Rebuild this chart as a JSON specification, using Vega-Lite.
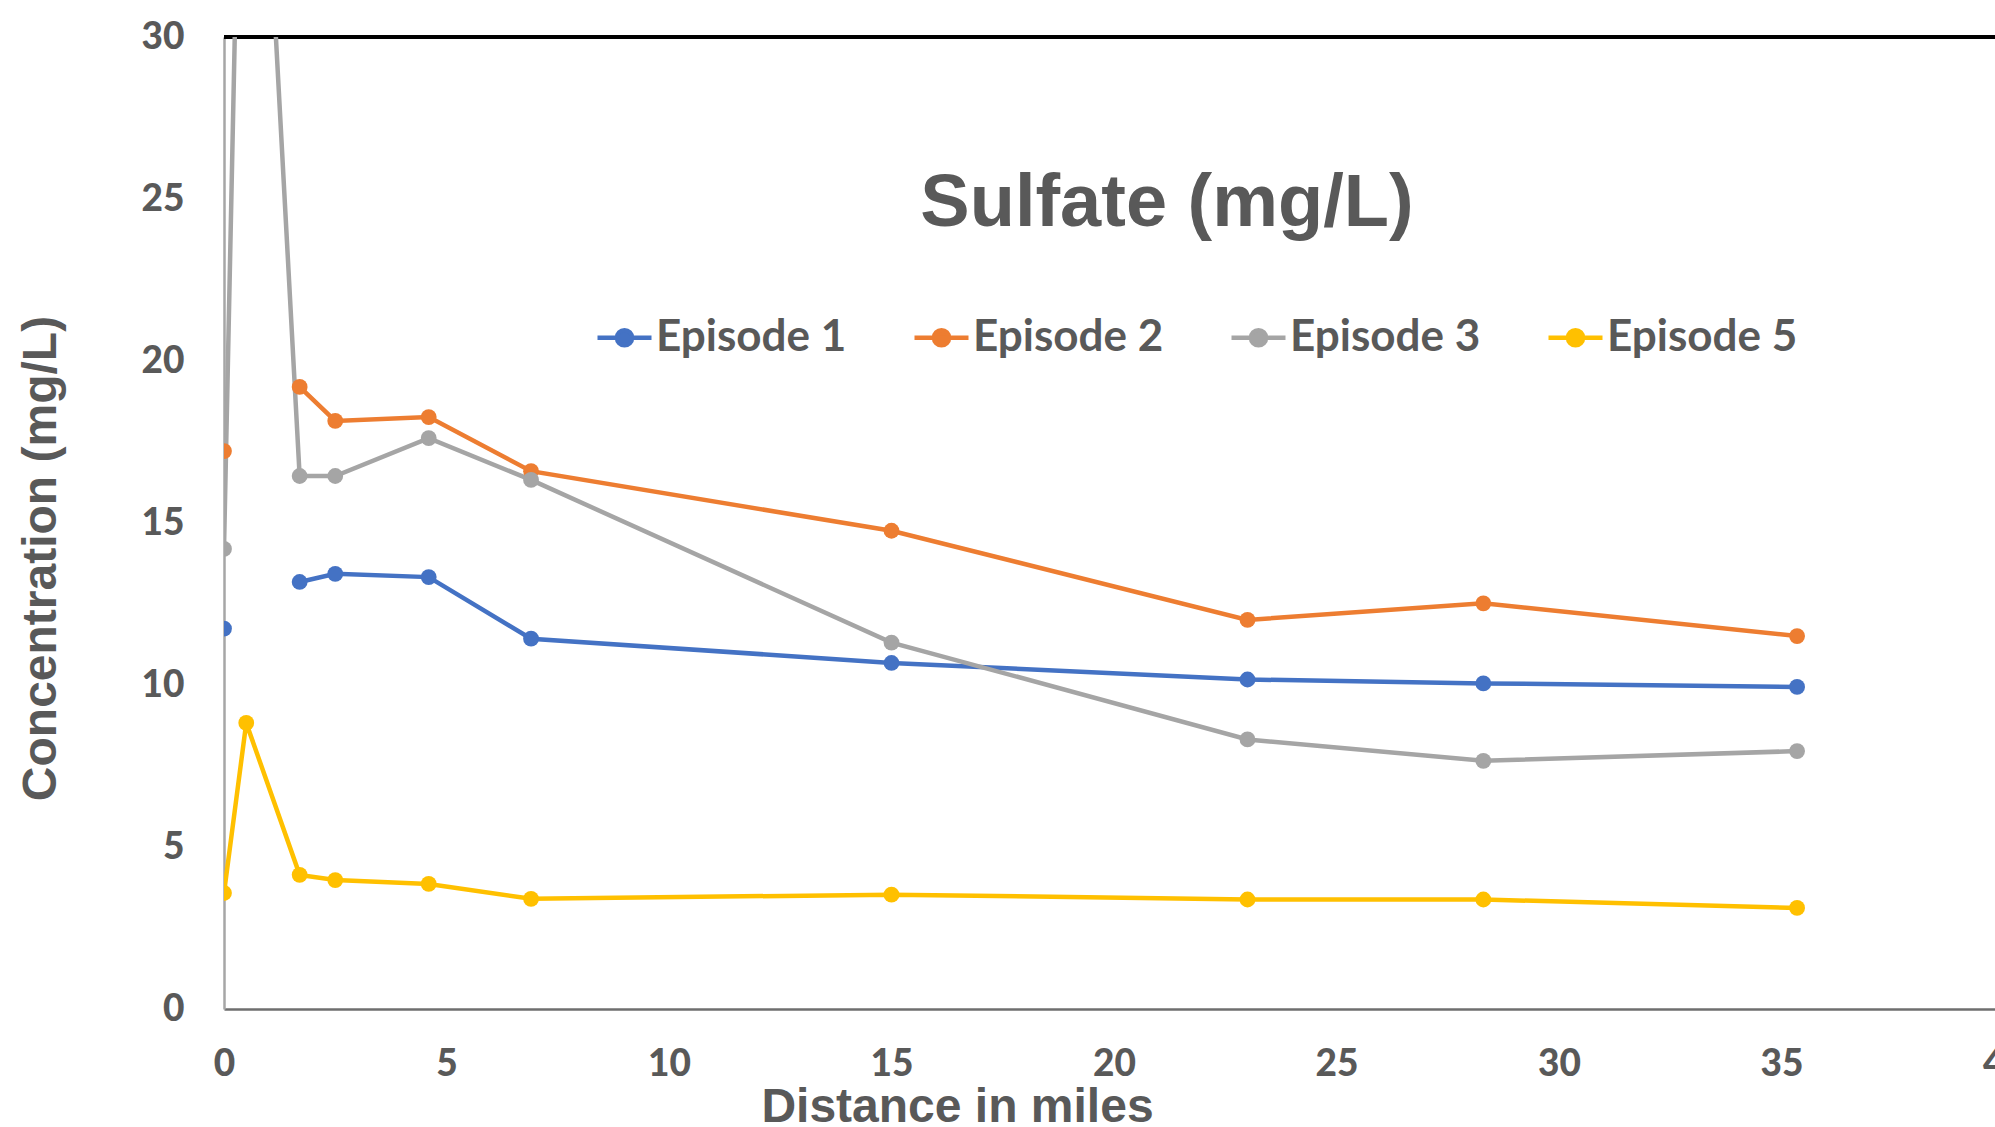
{
  "$schema": "https://vega.github.io/schema/vega-lite/v6.json",
  "autosize": "none",
  "padding": {"left": 224, "top": 37, "right": 0, "bottom": 118},
  "width": 1780,
  "height": 972,
  "background": "white",
  "title": {
    "text": "Sulfate (mg/L)",
    "anchor": "middle",
    "frame": "group",
    "baseline": "alphabetic",
    "offset": 0,
    "dx": 53,
    "dy": 282,
    "font": "Liberation Sans",
    "fontWeight": "bold",
    "fontSize": 74,
    "color": "#595959"
  },
  "data": {
    "values": [
      {"d": 0, "v": 11.74, "s": "Episode 1"},
      {"d": 0.5, "v": null, "s": "Episode 1"},
      {"d": 1.7, "v": 13.18, "s": "Episode 1"},
      {"d": 2.5, "v": 13.43, "s": "Episode 1"},
      {"d": 4.6, "v": 13.33, "s": "Episode 1"},
      {"d": 6.9, "v": 11.43, "s": "Episode 1"},
      {"d": 15, "v": 10.68, "s": "Episode 1"},
      {"d": 23, "v": 10.17, "s": "Episode 1"},
      {"d": 28.3, "v": 10.05, "s": "Episode 1"},
      {"d": 35.35, "v": 9.94, "s": "Episode 1"},
      {"d": 0, "v": 17.22, "s": "Episode 2"},
      {"d": 0.5, "v": null, "s": "Episode 2"},
      {"d": 1.7, "v": 19.2, "s": "Episode 2"},
      {"d": 2.5, "v": 18.15, "s": "Episode 2"},
      {"d": 4.6, "v": 18.27, "s": "Episode 2"},
      {"d": 6.9, "v": 16.6, "s": "Episode 2"},
      {"d": 15, "v": 14.76, "s": "Episode 2"},
      {"d": 23, "v": 12.01, "s": "Episode 2"},
      {"d": 28.3, "v": 12.52, "s": "Episode 2"},
      {"d": 35.35, "v": 11.51, "s": "Episode 2"},
      {"d": 0, "v": 14.2, "s": "Episode 3"},
      {"d": 0.5, "v": 46.9, "s": "Episode 3"},
      {"d": 1.7, "v": 16.45, "s": "Episode 3"},
      {"d": 2.5, "v": 16.45, "s": "Episode 3"},
      {"d": 4.6, "v": 17.62, "s": "Episode 3"},
      {"d": 6.9, "v": 16.33, "s": "Episode 3"},
      {"d": 15, "v": 11.31, "s": "Episode 3"},
      {"d": 23, "v": 8.32, "s": "Episode 3"},
      {"d": 28.3, "v": 7.66, "s": "Episode 3"},
      {"d": 35.35, "v": 7.96, "s": "Episode 3"},
      {"d": 0, "v": 3.58, "s": "Episode 5"},
      {"d": 0.5, "v": 8.83, "s": "Episode 5"},
      {"d": 1.7, "v": 4.14, "s": "Episode 5"},
      {"d": 2.5, "v": 3.98, "s": "Episode 5"},
      {"d": 4.6, "v": 3.86, "s": "Episode 5"},
      {"d": 6.9, "v": 3.4, "s": "Episode 5"},
      {"d": 15, "v": 3.53, "s": "Episode 5"},
      {"d": 23, "v": 3.38, "s": "Episode 5"},
      {"d": 28.3, "v": 3.38, "s": "Episode 5"},
      {"d": 35.35, "v": 3.12, "s": "Episode 5"}
    ]
  },
  "encoding": {
    "x": {
      "field": "d",
      "type": "quantitative",
      "scale": {"domain": [0, 40], "nice": false, "zero": false},
      "axis": {
        "values": [0, 5, 10, 15, 20, 25, 30, 35, 40],
        "title": "Distance in miles",
        "grid": false,
        "ticks": false,
        "domainColor": "#6e6e6e",
        "domainWidth": 2.5,
        "labelFont": "Lato",
        "labelFontWeight": 900,
        "labelFontSize": 37,
        "labelColor": "#595959",
        "labelPadding": 37,
        "labelBaseline": "top",
        "labelFlush": false,
        "labelOverlap": false,
        "titleFont": "Liberation Sans",
        "titleFontWeight": "bold",
        "titleFontSize": 48,
        "titleColor": "#595959",
        "titleX": 733,
        "titleY": 112,
        "titleBaseline": "alphabetic",
        "titleAnchor": null
      }
    },
    "y": {
      "field": "v",
      "type": "quantitative",
      "scale": {"domain": [0, 30], "nice": false, "zero": false},
      "axis": {
        "values": [0, 5, 10, 15, 20, 25, 30],
        "title": "Concentration (mg/L)",
        "grid": false,
        "ticks": false,
        "domainColor": "#a6a6a6",
        "domainWidth": 2.5,
        "labelFont": "Lato",
        "labelFontWeight": 900,
        "labelFontSize": 37,
        "labelColor": "#595959",
        "labelPadding": 40,
        "labelFlush": false,
        "labelOverlap": false,
        "titleFont": "Liberation Sans",
        "titleFontWeight": "bold",
        "titleFontSize": 48,
        "titleColor": "#595959",
        "titleX": -169,
        "titleY": 521,
        "titleAngle": -90,
        "titleBaseline": "alphabetic",
        "titleAnchor": null
      }
    },
    "color": {
      "field": "s",
      "type": "nominal",
      "scale": {
        "domain": ["Episode 1", "Episode 2", "Episode 3", "Episode 5"],
        "range": ["#4472C4", "#ED7D31", "#A5A5A5", "#FFC000"]
      },
      "legend": {
        "orient": "none",
        "legendX": 371,
        "legendY": 271,
        "direction": "horizontal",
        "title": null,
        "padding": 0,
        "symbolType": "M-1,0L1,0M0.28,0A0.28,0.28,0,1,1,-0.28,0A0.28,0.28,0,1,1,0.28,0Z",
        "symbolSize": 2916,
        "symbolStrokeWidth": 4.5,
        "symbolOpacity": 1,
        "labelFont": "Lato",
        "labelFontWeight": "bold",
        "labelFontSize": 44,
        "labelColor": "#595959",
        "labelOffset": 2,
        "labelLimit": 400,
        "columnPadding": 58,
        "encode": {
          "symbols": {
            "update": {
              "fill": {"scale": "color", "field": "value"},
              "stroke": {"scale": "color", "field": "value"},
              "fillOpacity": {"value": 1},
              "strokeOpacity": {"value": 1}
            }
          }
        }
      }
    }
  },
  "layer": [
    {
      "mark": {"type": "rule", "color": "#000000", "strokeWidth": 3},
      "encoding": {"y": {"datum": 30}, "color": {"value": "#000000"}, "x": {"datum": 0}, "x2": {"datum": 40}}
    },
    {
      "mark": {"type": "line", "strokeWidth": 4.5, "clip": true, "invalid": "break-paths-filter-domains"},
      "encoding": {"order": {"field": "d"}}
    },
    {
      "mark": {"type": "point", "filled": true, "size": 250, "opacity": 1, "clip": true}
    }
  ],
  "config": {
    "view": {"stroke": null}
  }
}
